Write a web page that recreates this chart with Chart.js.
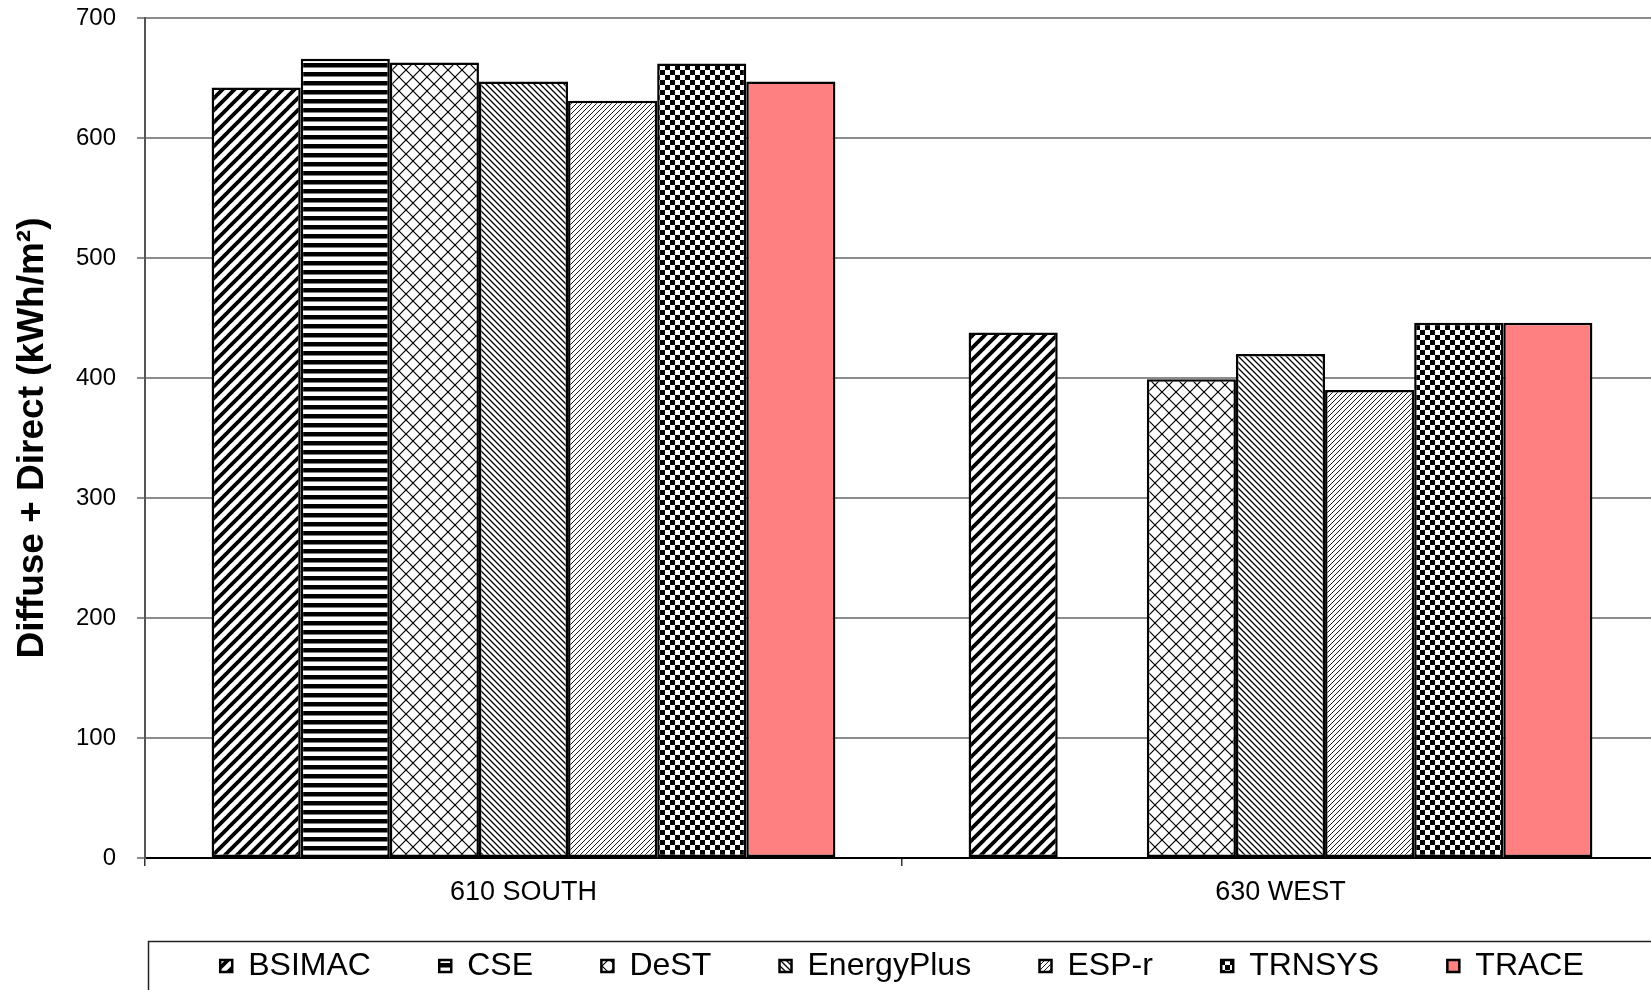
<!DOCTYPE html>
<html>
<head>
<meta charset="utf-8">
<script src="https://cdn.jsdelivr.net/npm/chart.js@4.4.1/dist/chart.umd.min.js"></script>
<style>
  html, body { margin: 0; padding: 0; background: #fff; overflow: hidden; }
  #wrap { width: 1680px; height: 992px; }
</style>
</head>
<body>
<div id="wrap"><canvas id="chart" width="1680" height="992"></canvas></div>
<script>
const categories = ['610 SOUTH', '630 WEST'];
const bsimac = [642, 438];
const cse = [666, null];
const dest = [663, 399];
const energyPlus = [647, 420];
const espr = [631, 390];
const trnsys = [662, 446];
const trace = [647, 446];
const yTicks = [0, 100, 200, 300, 400, 500, 600, 700];

const FONT = 'Arial, "Liberation Sans", sans-serif';
const legendGap = ' '.repeat(6);

// small tiles used as bar fills
const makePattern = (w, h, draw) => {
  const c = document.createElement('canvas');
  c.width = w;
  c.height = h;
  const g = c.getContext('2d');
  g.fillStyle = '#fff';
  g.fillRect(0, 0, w, h);
  g.strokeStyle = '#000';
  g.fillStyle = '#000';
  draw(g, w, h);
  return document.getElementById('chart').getContext('2d').createPattern(c, 'repeat');
};

const slash = (g, s, lw) => {
  g.lineWidth = lw;
  g.beginPath();
  for (const k of [0, s, 2 * s]) {
    g.moveTo(k - s - 1, s + 1);
    g.lineTo(k + 1, -1);
  }
  g.stroke();
};

const backslash = (g, s, lw) => {
  g.lineWidth = lw;
  g.beginPath();
  for (const k of [-s, 0, s]) {
    g.moveTo(k - 1, -1);
    g.lineTo(k + s + 1, s + 1);
  }
  g.stroke();
};

const patterns = {
  bsimac: makePattern(12, 12, (g, s) => slash(g, s, 3.8)),
  cse: makePattern(9, 9, (g) => g.fillRect(0, 0, 9, 4.5)),
  dest: makePattern(14, 14, (g, s) => { slash(g, s, 1.2); backslash(g, s, 1.2); }),
  energyPlus: makePattern(6, 6, (g, s) => backslash(g, s, 1.3)),
  espr: makePattern(5, 5, (g, s) => slash(g, s, 0.9)),
  trnsys: makePattern(10, 10, (g) => { g.fillRect(0, 0, 5, 5); g.fillRect(5, 5, 5, 5); })
};

const series = [
  { label: 'BSIMAC', data: bsimac, fill: patterns.bsimac },
  { label: 'CSE', data: cse, fill: patterns.cse },
  { label: 'DeST', data: dest, fill: patterns.dest },
  { label: 'EnergyPlus', data: energyPlus, fill: patterns.energyPlus },
  { label: 'ESP-r', data: espr, fill: patterns.espr },
  { label: 'TRNSYS', data: trnsys, fill: patterns.trnsys },
  { label: 'TRACE', data: trace, fill: '#ff8080' }
];

const legendFrame = {
  id: 'legendFrame',
  afterDraw(chart) {
    const lg = chart.legend;
    const box = lg.legendHitBoxes[0];
    const top = box.top + box.height / 2 - 25;
    const ctx = chart.ctx;
    ctx.save();
    ctx.strokeStyle = '#222';
    ctx.lineWidth = 1.5;
    ctx.strokeRect(lg.left + 3.5, Math.round(top) + 0.5, chart.width, 200);
    ctx.restore();
  }
};

new Chart(document.getElementById('chart'), {
  type: 'bar',
  data: {
    labels: categories,
    datasets: series.map(s => ({
      label: s.label,
      data: s.data,
      backgroundColor: s.fill,
      borderColor: '#000',
      borderWidth: 2.5,
      borderSkipped: false,
      categoryPercentage: 0.824,
      barPercentage: 1
    }))
  },
  options: {
    responsive: false,
    animation: false,
    layout: { padding: { top: 18, right: 21, left: 0, bottom: 0 } },
    plugins: {
      tooltip: { enabled: false },
      legend: {
        position: 'bottom',
        fullSize: false,
        labels: {
          color: '#000',
          font: { family: FONT, size: 32 },
          boxWidth: 12,
          boxHeight: 12,
          padding: 15,
          generateLabels: chart => {
            const items = Chart.defaults.plugins.legend.labels.generateLabels(chart);
            return items.map((it, i) => ({ ...it, text: i < items.length - 1 ? it.text + legendGap : it.text }));
          }
        }
      }
    },
    scales: {
      x: {
        grid: { drawOnChartArea: false, drawTicks: true, tickLength: 8, color: '#333', lineWidth: 1.5, offset: true },
        border: { color: '#000', width: 2 },
        ticks: { color: '#000', font: { family: FONT, size: 27 }, padding: 10, maxRotation: 0 },
        afterFit: s => { s.height = 77; }
      },
      y: {
        min: 0,
        max: 700,
        afterBuildTicks: s => { s.ticks = yTicks.map(v => ({ value: v })); },
        grid: { color: '#8c8c8c', lineWidth: 2, tickLength: 8 },
        border: { color: '#555', width: 2 },
        ticks: { color: '#000', font: { family: FONT, size: 24 }, padding: 21 },
        title: {
          display: true,
          text: 'Diffuse + Direct (kWh/m²)',
          color: '#000',
          font: { family: FONT, size: 37, weight: 'bold' },
          padding: { top: 11, bottom: 0 }
        },
        afterFit: s => {
          s.width = 145;
          s.paddingTop = 0;
          s.paddingBottom = 0;
        }
      }
    }
  },
  plugins: [legendFrame]
});
</script>
</body>
</html>
